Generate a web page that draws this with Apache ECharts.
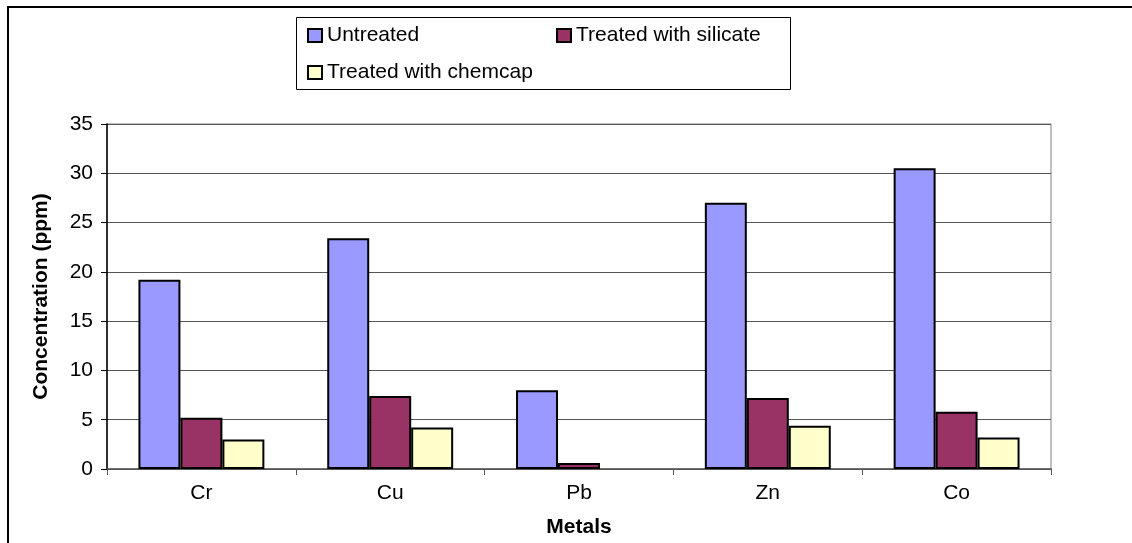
<!DOCTYPE html>
<html>
<head>
<meta charset="utf-8">
<style>
  html, body { margin: 0; padding: 0; background: #fff; }
  #chart { width: 1132px; height: 543px; }
</style>
<script src="https://cdn.jsdelivr.net/npm/echarts@6/dist/echarts.min.js"></script>
</head>
<body>
<div id="chart"></div>
<script>
// Metal concentrations (ppm) before and after treatment
const metals = ['Cr', 'Cu', 'Pb', 'Zn', 'Co'];
const untreated = [19.2, 23.4, 8.0, 27.0, 30.5];
const treatedSilicate = [5.2, 7.4, 0.6, 7.2, 5.8];
const treatedChemcap = [3.0, 4.2, null, 4.4, 3.2]; // Pb: not detected

const seriesNames = ['Untreated', 'Treated with silicate', 'Treated with chemcap'];
const seriesColors = ['#9999FF', '#993366', '#FFFFCC'];

const FONT = '"Liberation Sans", Arial, sans-serif';
const FS = 21;

const chart = echarts.init(document.getElementById('chart'));

function barSeries(name, data, color) {
  return {
    name: name,
    type: 'bar',
    data: data,
    barGap: '0%',
    barCategoryGap: '33.3%',
    itemStyle: { color: color, borderColor: '#000', borderWidth: 2 },
    animation: false
  };
}

function legendItem(name, left, top) {
  return {
    data: [name],
    left: left,
    top: top,
    padding: 0,
    icon: 'rect',
    itemWidth: 14,
    itemHeight: 13,
    selectedMode: false,
    textStyle: { fontFamily: FONT, fontSize: FS, color: '#000' }
  };
}

chart.setOption({
  backgroundColor: '#fff',
  animation: false,
  grid: {
    left: 107, right: 81, top: 124, bottom: 74,
    show: true, borderColor: '#808080', borderWidth: 1
  },
  legend: [
    legendItem(seriesNames[0], 307, 25),
    legendItem(seriesNames[1], 556, 25),
    legendItem(seriesNames[2], 307, 62)
  ],
  xAxis: {
    type: 'category',
    data: metals,
    name: 'Metals',
    nameLocation: 'middle',
    nameGap: 48,
    nameTextStyle: { fontFamily: FONT, fontSize: FS, fontWeight: 'bold', color: '#000' },
    axisLine: { lineStyle: { color: '#555', width: 1.5 } },
    axisTick: { show: true, length: 6, lineStyle: { color: '#555' } },
    axisLabel: { fontFamily: FONT, fontSize: FS, color: '#000', margin: 14 }
  },
  yAxis: {
    type: 'value',
    min: 0,
    max: 35,
    interval: 5,
    name: 'Concentration (ppm)',
    nameLocation: 'middle',
    nameGap: 55,
    nameTextStyle: { fontFamily: FONT, fontSize: FS, fontWeight: 'bold', color: '#000' },
    axisLine: { show: true, lineStyle: { color: '#000', width: 1.5 } },
    axisTick: { show: true, length: 6, lineStyle: { color: '#000' } },
    axisLabel: { fontFamily: FONT, fontSize: FS, color: '#000', margin: 14 },
    splitLine: { lineStyle: { color: '#555', width: 1.2 } }
  },
  graphic: [
    // chart frame
    {
      type: 'rect', z: 100, silent: true,
      shape: { x: 8, y: 7, width: 1200, height: 600 },
      style: { fill: 'none', stroke: '#000', lineWidth: 2 }
    },
    // legend frame
    {
      type: 'rect', z: 100, silent: true,
      shape: { x: 296.5, y: 17.5, width: 494, height: 72 },
      style: { fill: 'none', stroke: '#000', lineWidth: 1 }
    }
  ],
  series: [
    barSeries(seriesNames[0], untreated, seriesColors[0]),
    barSeries(seriesNames[1], treatedSilicate, seriesColors[1]),
    barSeries(seriesNames[2], treatedChemcap, seriesColors[2])
  ]
});
</script>
</body>
</html>
